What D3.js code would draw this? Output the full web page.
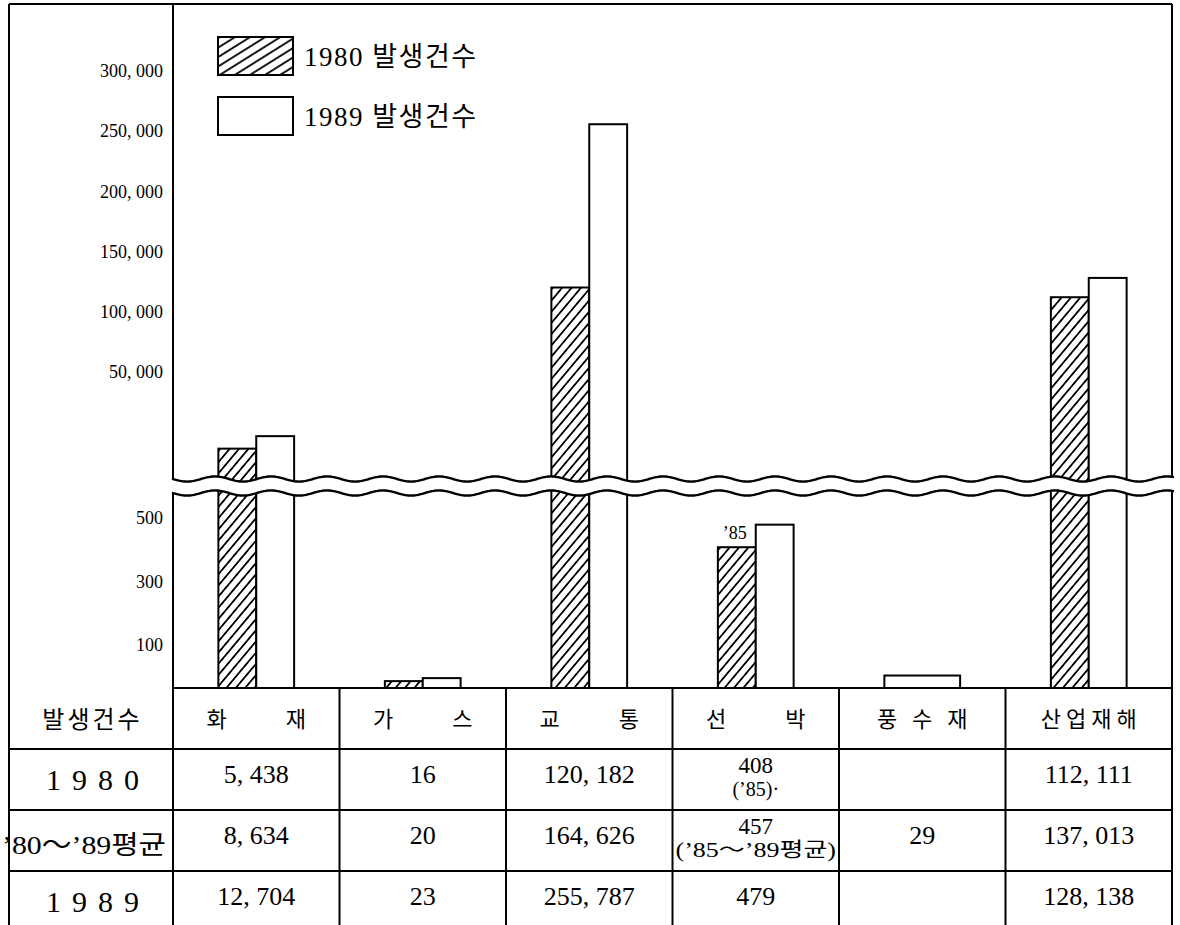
<!DOCTYPE html>
<html><head><meta charset="utf-8">
<script src="https://cdn.jsdelivr.net/npm/d3@7"></script>
<style>body{margin:0;background:#fff} svg{display:block}</style>
</head><body><svg id="chart" width="1180" height="925"></svg>
<script>
// ---------- data ----------
const categories   = ["화재","가스","교통","선박","풍수재","산업재해"];
const headerLabels = ["화　　재","가　　스","교　　통","선　　박","풍 수 재","산업재해"];
const values1980   = [5438, 16, 120182, 408, null, 112111];
const valuesAvg    = [8634, 20, 164626, 457, 29, 137013];
const values1989   = [12704, 23, 255787, 479, null, 128138];
const notes1980    = [null, null, null, "(’85)·", null, null];
const notesAvg     = [null, null, null, "(’85～’89평균)", null, null];
const barNotes1980 = [null, null, null, "’85", null, null];
const upperTicks   = [50000, 100000, 150000, 200000, 250000, 300000];
const lowerTicks   = [100, 300, 500];
const rowKeys      = ["header", "1980", "avg", "1989"];
const rowLabels    = ["발생건수", "1980", "’80～’89평균", "1989"];
const series       = ["1980", "1989"];
const legendLabels = ["1980 발생건수", "1989 발생건수"];

// ---------- layout ----------
const frameL = 9, frameT = 4, frameR = 1172, axisX = 173, baseY = 688, tableB = 932;
const breakTop = 479, breakBot = 493;
const SERIF = "'Liberation Serif','Noto Sans CJK KR',serif";
const KR = "'Noto Sans CJK KR','Liberation Serif',sans-serif";

const svg = d3.select("#chart");
const defs = svg.append("defs");

function hatch(id, angle, spacing) {
  const p = defs.append("pattern").attr("id", id).attr("patternUnits", "userSpaceOnUse")
    .attr("width", spacing).attr("height", spacing)
    .attr("patternTransform", `rotate(${angle})`);
  p.append("rect").attr("width", spacing).attr("height", spacing).attr("fill", "#fff");
  p.append("line").attr("x1", spacing/2).attr("x2", spacing/2).attr("y1", 0).attr("y2", spacing)
    .attr("stroke", "#000").attr("stroke-width", 1.8);
}
hatch("hatchBar", 40, 7.2);
hatch("hatchLegend", 58, 8);

// ---------- scales ----------
const x = d3.scaleBand().domain(categories).range([axisX, frameR]);
const pairW = x.bandwidth() * 0.455;
const xs = d3.scaleBand().domain(series).range([0, pairW]);
const pairX = c => x(c) + (x.bandwidth() - pairW) / 2;
const yLow = d3.scaleLinear().domain([0, 100, 500]).range([baseY, 645, 518]);
const yHigh = d3.scaleLinear().domain([0, 50000, 300000]).range([458, 372, 71]);
const yVal = v => v > 500 ? yHigh(v) : yLow(v);
const rowY = d3.scaleBand().domain(rowKeys).range([baseY, tableB]);
const fmt = v => d3.format(",")(v).replace(/,/g, ", ");

// ---------- frame ----------
const g = svg.append("g");
const ln = (x1, y1, x2, y2, w = 2) => g.append("line").attr("x1", x1).attr("y1", y1)
  .attr("x2", x2).attr("y2", y2).attr("stroke", "#000").attr("stroke-width", w);
ln(frameL, frameT, frameR, frameT);
ln(frameL, frameT, frameL, tableB);
ln(frameR, frameT, frameR, tableB);
ln(axisX, frameT, axisX, tableB);

// ---------- bars ----------
const bars = [];
categories.forEach((c, i) => {
  if (values1980[i] != null) bars.push({c, s: "1980", v: values1980[i], full: false});
  if (values1989[i] != null) bars.push({c, s: "1989", v: values1989[i], full: false});
  if (values1980[i] == null && values1989[i] == null && valuesAvg[i] != null)
    bars.push({c, s: "avg", v: valuesAvg[i], full: true});
});
g.selectAll("rect.bar").data(bars).join("rect").attr("class", "bar")
  .attr("x", d => d.full ? pairX(d.c) : pairX(d.c) + xs(d.s))
  .attr("width", d => d.full ? pairW : xs.bandwidth())
  .attr("y", d => yVal(d.v))
  .attr("height", d => baseY - yVal(d.v))
  .attr("fill", d => d.s === "1980" ? "url(#hatchBar)" : "#fff")
  .attr("stroke", "#000").attr("stroke-width", 2);

categories.forEach((c, i) => {
  if (barNotes1980[i]) {
    g.append("text").attr("x", pairX(c) + xs("1980") + xs.bandwidth()/2 - 2)
      .attr("y", yVal(values1980[i]) - 8).attr("text-anchor", "middle")
      .attr("font-family", SERIF).attr("font-size", 18).text(barNotes1980[i]);
  }
});

// ---------- axis break ----------
const waveXs = d3.range(axisX - 1, frameR + 4, 2);
const wave = (base, xv) => base + 2.6 * Math.sin((xv - axisX) / 56 * 2 * Math.PI);
g.append("path").datum(waveXs)
  .attr("d", d3.area().x(d => d).y0(d => wave(breakTop, d)).y1(d => wave(breakBot, d)))
  .attr("fill", "#fff");
[breakTop, breakBot].forEach(b => {
  g.append("path").datum(waveXs)
    .attr("d", d3.line().x(d => d).y(d => wave(b, d)).curve(d3.curveBasis))
    .attr("fill", "none").attr("stroke", "#000").attr("stroke-width", 2.4);
});

// ---------- axes ----------
[[yHigh, upperTicks], [yLow, lowerTicks]].forEach(([sc, tv]) => {
  const ax = g.append("g").attr("transform", `translate(${axisX},0)`)
    .call(d3.axisLeft(sc).tickValues(tv).tickSize(0).tickPadding(10).tickFormat(fmt));
  ax.select(".domain").remove();
  ax.attr("font-family", SERIF).attr("font-size", 18);
});

// ---------- legend ----------
legendLabels.forEach((t, i) => {
  const ly = 37 + i * 60;
  g.append("rect").attr("x", 218).attr("y", ly).attr("width", 75).attr("height", 38)
    .attr("fill", i === 0 ? "url(#hatchLegend)" : "#fff").attr("stroke", "#000").attr("stroke-width", 2);
  g.append("text").attr("x", 304).attr("y", ly + 29).attr("font-family", SERIF)
    .attr("font-size", 27).attr("letter-spacing", 1.5).text(t);
});

// ---------- table ----------
rowKeys.slice(1).forEach(k => ln(frameL, rowY(k), frameR, rowY(k)));
ln(axisX, baseY, frameR, baseY);
categories.slice(1).forEach(c => ln(x(c), baseY, x(c), tableB));

const rb = rowY.bandwidth();
const labelCX = (frameL + axisX) / 2;
g.append("text").attr("x", labelCX + 1.5).attr("y", rowY("header") + rb/2).attr("dy", "0.38em")
  .attr("text-anchor", "middle").attr("font-family", KR).attr("font-size", 24)
  .attr("letter-spacing", 3).text(rowLabels[0]);
["1980", "1989"].forEach(k => {
  g.append("text").attr("x", labelCX + 7).attr("y", rowY(k) + rb/2).attr("dy", "0.36em")
    .attr("text-anchor", "middle").attr("font-family", SERIF).attr("font-size", 30)
    .attr("letter-spacing", 11).text(rowLabels[rowKeys.indexOf(k)]);
});
g.append("text").attr("x", 84).attr("y", rowY("avg") + rb/2).attr("dy", "0.52em")
  .attr("text-anchor", "middle").attr("font-family", SERIF).attr("font-size", 26)
  .attr("textLength", 164).attr("lengthAdjust", "spacingAndGlyphs").text(rowLabels[2]);

categories.forEach((c, i) => {
  g.append("text").attr("x", x(c) + x.bandwidth()/2 + 2.5).attr("y", rowY("header") + rb/2)
    .attr("dy", "0.38em").attr("text-anchor", "middle").attr("font-family", KR)
    .attr("font-size", 22).attr("letter-spacing", 5).style("white-space", "pre")
    .text(headerLabels[i]);
});

const rowsData = {"1980": [values1980, notes1980], "avg": [valuesAvg, notesAvg], "1989": [values1989, null]};
Object.entries(rowsData).forEach(([k, [vals, notes]]) => {
  categories.forEach((c, i) => {
    const v = vals[i];
    if (v == null) return;
    const cx = x(c) + x.bandwidth()/2;
    const cy = rowY(k) + rb/2;
    const note = notes ? notes[i] : null;
    if (note) {
      g.append("text").attr("x", cx).attr("y", cy - 7).attr("text-anchor", "middle")
        .attr("font-family", SERIF).attr("font-size", 23).text(fmt(v));
      const t = g.append("text").attr("x", cx).attr("y", cy + 16).attr("text-anchor", "middle")
        .attr("font-family", SERIF).attr("font-size", 20).text(note);
      if (note.length > 8) t.attr("textLength", x.bandwidth() - 6).attr("lengthAdjust", "spacingAndGlyphs");
    } else {
      g.append("text").attr("x", cx).attr("y", cy).attr("dy", "0.12em").attr("text-anchor", "middle")
        .attr("font-family", SERIF).attr("font-size", 26).text(fmt(v));
    }
  });
});
</script>
</body></html>
